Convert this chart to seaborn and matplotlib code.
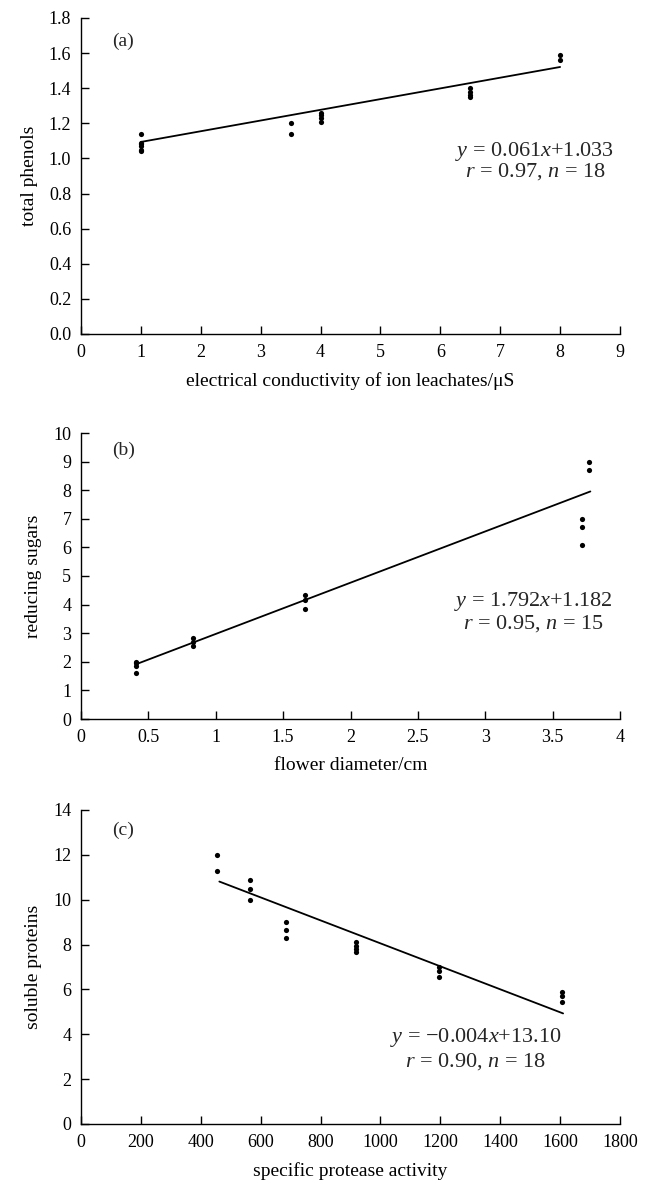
import numpy as np
import pandas as pd
import matplotlib
matplotlib.use("Agg")
import matplotlib.pyplot as plt
import seaborn as sns

# ---------------- data ----------------
# (a)
a_x = [1, 1, 1, 1, 1, 1, 3.5, 3.5, 4, 4, 4, 4, 6.5, 6.5, 6.5, 6.5, 8, 8]
a_y = [1.14, 1.09, 1.08, 1.07, 1.05, 1.04, 1.20, 1.14, 1.26, 1.25, 1.23, 1.21,
       1.40, 1.38, 1.36, 1.35, 1.59, 1.56]
a_fit_x = [1, 8]
a_fit_y = [1.094, 1.521]
a_xticks = [0, 1, 2, 3, 4, 5, 6, 7, 8, 9]
a_yticks = [0.0, 0.2, 0.4, 0.6, 0.8, 1.0, 1.2, 1.4, 1.6, 1.8]

# (b)
b_x = [0.41, 0.41, 0.41, 0.41, 0.83, 0.83, 0.83, 1.66, 1.66, 1.66, 3.72, 3.72, 3.72, 3.77, 3.77]
b_y = [1.98, 1.95, 1.84, 1.62, 2.82, 2.68, 2.55, 4.32, 4.15, 3.85, 6.98, 6.73, 6.10, 9.0, 8.7]
b_fit_x = [0.42, 3.78]
b_fit_y = [1.935, 7.956]
b_xticks = [0, 0.5, 1, 1.5, 2, 2.5, 3, 3.5, 4]
b_yticks = [0, 1, 2, 3, 4, 5, 6, 7, 8, 9, 10]

# (c)
c_x = [455, 455, 565, 565, 565, 685, 685, 685, 920, 920, 920, 920, 1195, 1195, 1195, 1605, 1605, 1605]
c_y = [12.0, 11.3, 10.9, 10.5, 10.0, 9.0, 8.65, 8.3, 8.1, 7.95, 7.8, 7.65, 7.0, 6.8, 6.55, 5.9, 5.7, 5.45]
c_fit_x = [462, 1610]
c_fit_y = [10.81, 4.93]
c_xticks = [0, 200, 400, 600, 800, 1000, 1200, 1400, 1600, 1800]
c_yticks = [0, 2, 4, 6, 8, 10, 12, 14]

labels = ["(a)", "(b)", "(c)"]
xlabels = ["electrical conductivity of ion leachates/\u03bcS", "flower diameter/cm", "specific protease activity"]
ylabels = ["total phenols", "reducing sugars", "soluble proteins"]
eq1 = ["$y$ = 0.061$x$+1.033", "$y$ = 1.792$x$+1.182", "$y$ = \u22120.004$x$+13.10"]
eq2 = ["$r$ = 0.97, $n$ = 18", "$r$ = 0.95, $n$ = 15", "$r$ = 0.90, $n$ = 18"]

# ---------------- style ----------------
sns.set_theme(style="ticks")
plt.rcParams["font.family"] = ["Liberation Serif", "DejaVu Serif"]
plt.rcParams["mathtext.fontset"] = "custom"
plt.rcParams["mathtext.rm"] = "Liberation Serif"
plt.rcParams["mathtext.it"] = "Liberation Serif:italic"

W, H = 645, 1184
fig = plt.figure(figsize=(W / 100, H / 100), dpi=100)

def px_axes(left, top, right, bottom):
    return fig.add_axes([left / W, 1 - bottom / H, (right - left) / W, (bottom - top) / H])

boxes = [(81, 18, 620, 334), (81, 433, 620, 719), (81, 810, 620, 1124)]
datasets = [
    (a_x, a_y, a_fit_x, a_fit_y, a_xticks, a_yticks, (0, 9), (0, 1.8), "{:.1f}", "{:g}"),
    (b_x, b_y, b_fit_x, b_fit_y, b_xticks, b_yticks, (0, 4), (0, 10), "{:g}", "{:g}"),
    (c_x, c_y, c_fit_x, c_fit_y, c_xticks, c_yticks, (0, 1800), (0, 14), "{:g}", "{:g}"),
]
# (x centre, y of first line, y of second line) in axes fractions
eq_pos = [(0.842, 0.577, 0.514), (0.840, 0.410, 0.335), (0.732, 0.277, 0.198)]
tag_y = [0.925, 0.94, 0.935]

for i, (box, d) in enumerate(zip(boxes, datasets)):
    x, y, fx, fy, xt, yt, xl, yl, yfmt, xfmt = d
    ax = px_axes(*box)
    df = pd.DataFrame({"x": x, "y": y})
    sns.scatterplot(data=df, x="x", y="y", ax=ax, color="black", s=14, linewidth=0, zorder=3)
    dfl = pd.DataFrame({"x": fx, "y": fy})
    sns.lineplot(data=dfl, x="x", y="y", ax=ax, color="black", linewidth=1.3)
    ax.set_xlim(*xl)
    ax.set_ylim(*yl)
    ax.set_xticks(xt)
    ax.set_yticks(yt)
    ax.set_xticklabels([xfmt.format(v) for v in xt])
    ax.set_yticklabels([yfmt.format(v) for v in yt])
    ax.tick_params(direction="in", length=6, width=1, labelsize=13, colors="black", pad=7)
    sns.despine(ax=ax)
    for s in ("left", "bottom"):
        ax.spines[s].set_color("black")
        ax.spines[s].set_linewidth(1)
    ax.set_xlabel(xlabels[i], fontsize=14, color="black", labelpad=8)
    ax.set_ylabel(ylabels[i], fontsize=14, color="black", labelpad=8)
    ax.text(0.058, tag_y[i], labels[i], transform=ax.transAxes, fontsize=14, va="center", ha="left")
    ex, ey1, ey2 = eq_pos[i]
    ax.text(ex, ey1, eq1[i], transform=ax.transAxes, fontsize=16, ha="center", va="center")
    ax.text(ex, ey2, eq2[i], transform=ax.transAxes, fontsize=16, ha="center", va="center")

fig.savefig("out.png", dpi=100)
